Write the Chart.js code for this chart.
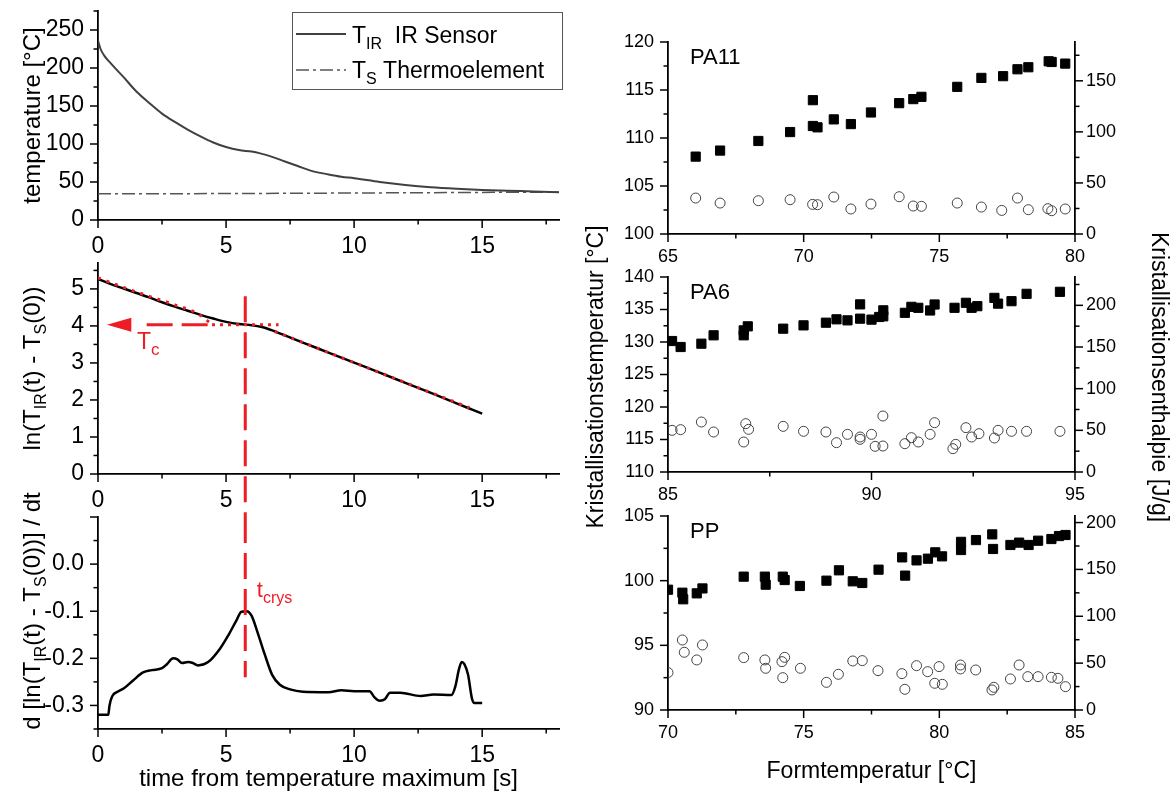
<!DOCTYPE html>
<html>
<head>
<meta charset="utf-8">
<script src="https://cdn.jsdelivr.net/npm/chart.js@4.4.1/dist/chart.umd.min.js"></script>
<style>
  html, body { margin: 0; background: #fff; }
  #page { position: relative; width: 1173px; height: 792px; }
  #page canvas { position: absolute; left: 0; top: 0; }
</style>
</head>
<body>
<div id="page">
  <canvas id="l1" width="1173" height="792"></canvas>
  <canvas id="l2" width="1173" height="792"></canvas>
  <canvas id="l3" width="1173" height="792"></canvas>
  <canvas id="r1" width="1173" height="792"></canvas>
  <canvas id="r2" width="1173" height="792"></canvas>
  <canvas id="r3" width="1173" height="792"></canvas>
</div>
<script>
// ---- left column: cooling curve ----
const irTime = [0, 0.1, 0.25, 0.5, 1, 1.5, 2, 2.5, 3, 3.5, 4, 4.5, 5, 5.5, 6, 6.3, 6.8, 7.3, 7.8, 8.3, 9, 9.5, 10, 11, 12, 13, 14, 15, 16, 17, 18];
const irTemp = [236, 225, 216, 206, 188, 169, 154, 140, 129, 119, 110, 102, 96, 92, 90, 88, 83, 77, 71, 65, 60, 57, 55, 50, 46, 43, 41, 39.5, 38.5, 37.5, 36.5];
const thermoTime = [0, 5, 10, 15, 18];
const thermoTemp = [34.5, 34.8, 35.5, 36.3, 36.6];

// ln(T_IR - T_S(0))
const lnTime = [0, 0.5, 1, 1.5, 2, 2.5, 3, 3.5, 4, 4.5, 5, 5.5, 6, 6.4, 6.8, 7.2, 8, 9, 10, 11, 12, 13, 14, 14.5, 15];
const lnValue = [5.27, 5.13, 5.01, 4.89, 4.77, 4.64, 4.52, 4.41, 4.3, 4.2, 4.11, 4.05, 4.02, 3.97, 3.88, 3.77, 3.55, 3.28, 3.01, 2.74, 2.46, 2.19, 1.91, 1.77, 1.63];
const fit1Time = [0, 1, 2, 3, 3.9, 4.25, 4.5];
const fit1Value = [5.3, 5.04, 4.8, 4.57, 4.33, 4.15, 4.03];
const fit2Time = [6.9, 14.5];
const fit2Value = [3.85, 1.79];
const tcValue = 4.03;
const tcLineTime = [1.9, 4.45, 7.05];
const tcArrowTip = 0.35, tcArrowBase = 1.3;
const crysTime = 5.75;
const crysSpanLn = [4.8, -1.17];
const crysSpanD = [0.1, -0.24];

// derivative
const dTime = [0, 0.4, 0.45, 0.55, 0.8, 1.0, 1.37, 1.76, 2.1, 2.5, 2.7, 2.93, 3.1, 3.28, 3.52, 3.7, 3.9, 4.3, 4.77, 5.1, 5.4, 5.6, 5.8, 6.0, 6.2, 6.5, 6.8, 7.1, 7.5, 8, 9, 9.5, 10, 10.6, 10.8, 11.0, 11.2, 11.4, 11.8, 12.6, 13.1, 13.8, 13.95, 14.1, 14.2, 14.3, 14.45, 14.6, 14.7, 15];
const dValue = [-0.32, -0.32, -0.3, -0.281, -0.27, -0.264, -0.247, -0.23, -0.225, -0.221, -0.212, -0.2, -0.202, -0.21, -0.208, -0.21, -0.215, -0.208, -0.179, -0.15, -0.12, -0.101, -0.1, -0.11, -0.14, -0.19, -0.235, -0.256, -0.266, -0.271, -0.272, -0.268, -0.27, -0.27, -0.283, -0.29, -0.287, -0.273, -0.273, -0.28, -0.277, -0.278, -0.26, -0.222, -0.208, -0.212, -0.235, -0.285, -0.295, -0.295];

// ---- right column: Formtemperatur series ----
const pa11TcX = [66.02, 66.92, 68.33, 69.5, 70.34, 70.34, 70.51, 71.11, 71.74, 72.48, 73.52, 74.04, 74.34, 75.66, 76.55, 77.35, 77.88, 78.28, 79.03, 79.14, 79.64];
const pa11TcY = [108.06, 108.69, 109.69, 110.62, 113.94, 111.25, 111.11, 111.94, 111.45, 112.66, 113.63, 114.05, 114.29, 115.33, 116.26, 116.44, 117.16, 117.37, 117.99, 117.92, 117.75];
const pa11HX = [66.02, 66.92, 68.33, 69.5, 70.33, 70.51, 71.11, 71.74, 72.48, 73.52, 74.04, 74.34, 75.66, 76.55, 77.3, 77.88, 78.28, 79.0, 79.14, 79.64];
const pa11HY = [35.2, 30.3, 32.6, 33.6, 29.0, 28.7, 36.2, 24.5, 29.3, 36.5, 27.4, 27.1, 30.3, 26.4, 23.1, 35.2, 23.8, 24.8, 22.8, 24.5];

const pa6TcX = [85.1, 85.31, 85.82, 86.12, 86.86, 86.86, 86.96, 87.83, 88.33, 88.88, 89.14, 89.41, 89.72, 89.72, 90.0, 90.19, 90.29, 90.29, 90.82, 90.98, 91.15, 91.44, 91.55, 92.04, 92.32, 92.46, 92.6, 93.02, 93.11, 93.44, 93.81, 94.63];
const pa6TcY = [130.15, 129.23, 129.74, 131.03, 131.79, 131.03, 132.41, 132.05, 132.56, 132.97, 133.49, 133.33, 135.79, 133.59, 133.44, 133.85, 134.87, 133.95, 134.49, 135.41, 135.26, 134.85, 135.77, 135.26, 136.03, 135.26, 135.51, 136.79, 135.9, 136.28, 137.41, 137.72];
const pa6HX = [85.1, 85.31, 85.82, 86.12, 86.86, 86.91, 86.98, 87.83, 88.33, 88.88, 89.14, 89.41, 89.72, 89.72, 90.0, 90.09, 90.28, 90.28, 90.82, 90.98, 91.15, 91.44, 91.55, 92.0, 92.07, 92.32, 92.46, 92.64, 93.02, 93.11, 93.44, 93.81, 94.63];
const pa6HY = [50, 50.8, 60, 48, 36, 58, 51.2, 54.8, 48.8, 48, 35.2, 45.2, 42, 39.2, 45.2, 30.8, 31.2, 67.2, 34, 41.2, 36, 45.2, 59.2, 28, 33.2, 53.2, 42, 46, 40.8, 50, 48.8, 48.8, 48.8];

const ppTcX = [70.0, 70.53, 70.56, 71.06, 71.27, 72.79, 73.57, 73.6, 74.23, 74.3, 74.86, 75.84, 76.3, 76.81, 77.16, 77.76, 78.63, 78.74, 79.16, 79.58, 79.85, 80.1, 80.8, 80.8, 81.35, 81.95, 81.98, 82.62, 82.94, 83.29, 83.64, 84.13, 84.41, 84.65];
const ppTcY = [99.3, 99.07, 98.56, 99.02, 99.4, 100.31, 100.31, 99.69, 100.31, 100.05, 99.59, 100.0, 100.8, 99.95, 99.82, 100.85, 101.8, 100.39, 101.57, 101.7, 102.19, 101.88, 103.0, 102.37, 103.14, 103.58, 102.45, 102.76, 102.94, 102.76, 103.09, 103.22, 103.45, 103.53];
const ppHX = [70.0, 70.53, 70.6, 71.06, 71.27, 72.79, 73.57, 73.6, 74.2, 74.23, 74.3, 74.88, 75.84, 76.28, 76.81, 77.16, 77.74, 78.62, 78.73, 79.16, 79.57, 79.83, 79.99, 80.11, 80.78, 80.78, 81.34, 81.94, 82.01, 82.62, 82.94, 83.26, 83.64, 84.13, 84.37, 84.65];
const ppHY = [39.9, 74.7, 61.6, 53.4, 69.4, 55.9, 53.4, 44.5, 51.6, 34.5, 56.2, 44.5, 29.5, 38.1, 52.3, 52.7, 42.0, 38.8, 22.1, 47.3, 40.9, 28.5, 46.3, 27.4, 48.0, 43.8, 42.7, 21.4, 24.2, 33.1, 48.0, 35.6, 35.6, 34.9, 33.8, 24.9];

// ---- look ----
const FONT = '"Liberation Sans", Arial, sans-serif';
const RED = '#ee1c24';
const W = 1173, H = 792;
const Y_W = 70, X_H = 50;

const pts = (xs, ys) => xs.map((x, i) => ({ x, y: ys[i] }));

// text with _{subscript} parts
function runs(str) {
  const out = [];
  str.split(/(_\{[^}]*\})/).forEach(p => {
    if (!p) return;
    if (p.startsWith('_{')) out.push({ t: p.slice(2, -1), sub: true });
    else out.push({ t: p, sub: false });
  });
  return out;
}

function drawRich(ctx, str, x, y, o) {
  const parts = runs(str);
  const sub = o.sub || Math.round(o.size * 0.68);
  const fontOf = r => (r.sub ? sub : o.size) + 'px ' + FONT;
  ctx.save();
  ctx.translate(x, y);
  if (o.angle) ctx.rotate(o.angle);
  ctx.fillStyle = o.color || '#000';
  ctx.textBaseline = 'alphabetic';
  ctx.textAlign = 'left';
  let w = 0;
  parts.forEach(r => { ctx.font = fontOf(r); w += ctx.measureText(r.t).width; });
  let cx = o.align === 'left' ? 0 : -w / 2;
  const base = o.baseline === 'alphabetic' ? 0 : o.size * 0.36;
  parts.forEach(r => {
    ctx.font = fontOf(r);
    ctx.fillText(r.t, cx, base + (r.sub ? o.size * 0.27 : 0));
    cx += ctx.measureText(r.t).width;
  });
  ctx.restore();
}

function fixSize(prop, val) {
  return (s) => {
    s[prop] = val;
    s.paddingLeft = s.paddingRight = s.paddingTop = s.paddingBottom = 0;
  };
}

function axis(pos, min, max, step, size, pad, fmt) {
  const horiz = pos === 'bottom';
  return {
    type: 'linear', position: pos, min, max,
    afterFit: horiz ? fixSize('height', X_H) : fixSize('width', Y_W),
    grid: { display: false, drawTicks: true, tickLength: 8 },
    border: { display: true, color: '#000', width: 1.8 },
    ticks: {
      stepSize: step, includeBounds: false, autoSkip: false, maxRotation: 0,
      padding: pad, color: '#000', font: { family: FONT, size: size },
      callback: fmt || (v => String(v))
    }
  };
}

// major/minor tick marks, pointing outwards
function tickPlugin(spec) {
  return {
    id: 'ticks',
    afterDraw(chart) {
      const ctx = chart.ctx;
      ctx.save();
      ctx.strokeStyle = '#000';
      ctx.lineWidth = 1.5;
      Object.keys(spec).forEach(id => {
        const s = chart.scales[id];
        const [major, minor] = spec[id];
        const start = Math.ceil(s.min / minor - 1e-6) * minor;
        for (let v = start; v <= s.max + 1e-6; v += minor) {
          const isMajor = Math.abs(v / major - Math.round(v / major)) < 1e-6;
          const len = isMajor ? 8 : 4.5;
          const p = s.getPixelForValue(v);
          ctx.beginPath();
          if (s.position === 'bottom') { ctx.moveTo(p, s.top); ctx.lineTo(p, s.top + len); }
          else if (s.position === 'left') { ctx.moveTo(s.right, p); ctx.lineTo(s.right - len, p); }
          else { ctx.moveTo(s.left, p); ctx.lineTo(s.left + len, p); }
          ctx.stroke();
        }
      });
      ctx.restore();
    }
  };
}

function makeChart(id, area, scales, tickSpec, datasets, draw) {
  const hasRight = !!scales.y1;
  return new Chart(document.getElementById(id), {
    type: 'scatter',
    data: { datasets },
    options: {
      responsive: false,
      animation: false,
      devicePixelRatio: 1,
      layout: {
        padding: {
          left: area.l - Y_W,
          right: W - area.r - (hasRight ? Y_W : 0),
          top: area.t,
          bottom: H - area.b - X_H
        }
      },
      plugins: { legend: { display: false }, tooltip: { enabled: false } },
      scales
    },
    plugins: [tickPlugin(tickSpec), { id: 'extra', afterDraw: c => draw && draw(c) }]
  });
}

const curve = (data, color, width, extra) => Object.assign({
  data, showLine: true, borderColor: color, borderWidth: width,
  pointRadius: 0, cubicInterpolationMode: 'monotone', fill: false
}, extra || {});

// ---------- L1: temperature ----------
makeChart('l1', { l: 98, r: 559, t: 11, b: 220 }, {
  x: axis('bottom', 0, 18, 5, 23, 5),
  y: axis('left', 0, 275, 50, 23, 6)
}, { x: [5, 2.5], y: [50, 25] }, [
  curve(pts(irTime, irTemp), '#404040', 2),
  curve(pts(thermoTime, thermoTemp), '#555', 1.5, { borderDash: [13, 4, 3, 4] })
], c => {
  const ctx = c.ctx;
  drawRich(ctx, 'temperature [°C]', 31, (c.chartArea.top + c.chartArea.bottom) / 2, { size: 24, angle: -Math.PI / 2 });
  // legend
  ctx.save();
  ctx.strokeStyle = '#555'; ctx.lineWidth = 1;
  ctx.strokeRect(292.5, 12.5, 270, 77);
  ctx.strokeStyle = '#404040'; ctx.lineWidth = 2;
  ctx.beginPath(); ctx.moveTo(296, 34); ctx.lineTo(346, 34); ctx.stroke();
  ctx.strokeStyle = '#555'; ctx.lineWidth = 1.5; ctx.setLineDash([13, 4, 3, 4]);
  ctx.beginPath(); ctx.moveTo(296, 70); ctx.lineTo(346, 70); ctx.stroke();
  ctx.restore();
  drawRich(ctx, 'T_{IR}  IR Sensor', 352, 43, { size: 23, sub: 16, align: 'left', baseline: 'alphabetic' });
  drawRich(ctx, 'T_{S} Thermoelement', 352, 78, { size: 23, sub: 16, align: 'left', baseline: 'alphabetic' });
});

// ---------- L2: ln ----------
makeChart('l2', { l: 98, r: 559, t: 263, b: 474 }, {
  x: axis('bottom', 0, 18, 5, 23, 5),
  y: axis('left', 0, 5.7, 1, 23, 6)
}, { x: [5, 2.5], y: [1, 0.5] }, [
  curve(pts([crysTime, crysTime], crysSpanLn), RED, 3, { borderDash: [26, 10], clip: false, cubicInterpolationMode: 'default', tension: 0 }),
  {
    data: tcLineTime.map(x => ({ x, y: tcValue })), showLine: true, borderColor: RED, borderWidth: 3,
    pointRadius: 0, tension: 0,
    segment: { borderDash: s => s.p0DataIndex === 0 ? [26, 9] : [3, 5] }
  },
  curve(pts(fit1Time, fit1Value), RED, 3, { borderDash: [3, 6] }),
  curve(pts(fit2Time, fit2Value), RED, 3, { borderDash: [3, 6], tension: 0, cubicInterpolationMode: 'default' }),
  curve(pts(lnTime, lnValue), '#000', 2.5)
], c => {
  const ctx = c.ctx, sx = c.scales.x, sy = c.scales.y;
  drawRich(ctx, 'ln(T_{IR}(t) - T_{S}(0))', 31, (c.chartArea.top + c.chartArea.bottom) / 2, { size: 24, angle: -Math.PI / 2 });
  // arrow head of T_c
  const yy = sy.getPixelForValue(tcValue);
  ctx.save();
  ctx.fillStyle = RED;
  ctx.beginPath();
  ctx.moveTo(sx.getPixelForValue(tcArrowTip), yy);
  ctx.lineTo(sx.getPixelForValue(tcArrowBase), yy - 7);
  ctx.lineTo(sx.getPixelForValue(tcArrowBase), yy + 7);
  ctx.closePath(); ctx.fill();
  ctx.restore();
  drawRich(ctx, 'T_{c}', sx.getPixelForValue(1.52), sy.getPixelForValue(3.37), { size: 23, sub: 17, align: 'left', baseline: 'alphabetic', color: RED });
});

// ---------- L3: derivative ----------
makeChart('l3', { l: 98, r: 559, t: 517, b: 729 }, {
  x: axis('bottom', 0, 18, 5, 23, 5),
  y: axis('left', -0.35, 0.1, 0.1, 23, 6, v => (v > 0.05 ? '' : v.toFixed(1)))
}, { x: [5, 2.5], y: [0.1, 0.05] }, [
  curve(pts([crysTime, crysTime], crysSpanD), RED, 3, { borderDash: [26, 10], clip: false, cubicInterpolationMode: 'default', tension: 0 }),
  curve(pts(dTime, dValue), '#000', 2.5)
], c => {
  const ctx = c.ctx, sx = c.scales.x, sy = c.scales.y;
  drawRich(ctx, 'd [ln(T_{IR}(t) - T_{S}(0))] / dt', 31, 611, { size: 24, angle: -Math.PI / 2 });
  drawRich(ctx, 'time from temperature maximum [s]', (c.chartArea.left + c.chartArea.right) / 2, 777, { size: 24 });
  drawRich(ctx, 't_{crys}', sx.getPixelForValue(6.2), sy.getPixelForValue(-0.07), { size: 22, sub: 16, align: 'left', baseline: 'alphabetic', color: RED });
});

// ---------- right column ----------
const squares = data => ({ data, pointStyle: 'rect', pointRadius: 6.5, backgroundColor: '#000', borderColor: '#000', borderWidth: 1, yAxisID: 'y', clip: 0 });
const circles = data => ({ data, pointStyle: 'circle', pointRadius: 5, backgroundColor: 'rgba(0,0,0,0)', borderColor: '#444', borderWidth: 1, yAxisID: 'y1', clip: 0 });

function rightPanel(id, area, xr, yr, hr, label, sqData, ciData, draw) {
  makeChart(id, area, {
    x: axis('bottom', xr[0], xr[1], 5, 18, 4),
    y: axis('left', yr[0], yr[1], 5, 18, 6),
    y1: axis('right', 0, hr, 50, 18, 3)
  }, { x: [5, 2.5], y: [5, 2.5], y1: [50, 25] }, [squares(sqData), circles(ciData)], c => {
    drawRich(c.ctx, label, c.chartArea.left + 22, c.chartArea.top + 14, { size: 22, align: 'left' });
    if (draw) draw(c);
  });
}

rightPanel('r1', { l: 668, r: 1075, t: 42, b: 234 }, [65, 80], [100, 120], 188,
  'PA11', pts(pa11TcX, pa11TcY), pts(pa11HX, pa11HY));

rightPanel('r2', { l: 668, r: 1075, t: 277, b: 472 }, [85, 95], [110, 140], 234,
  'PA6', pts(pa6TcX, pa6TcY), pts(pa6HX, pa6HY), c => {
    drawRich(c.ctx, 'Kristallisationstemperatur [°C]', 595, 377, { size: 23, angle: -Math.PI / 2 });
    drawRich(c.ctx, 'Kristallisationsenthalpie [J/g]', 1160, 377, { size: 23, angle: Math.PI / 2 });
  });

rightPanel('r3', { l: 668, r: 1075, t: 516, b: 710 }, [70, 85], [90, 105], 207,
  'PP', pts(ppTcX, ppTcY), pts(ppHX, ppHY), c => {
    drawRich(c.ctx, 'Formtemperatur [°C]', (c.chartArea.left + c.chartArea.right) / 2, 770, { size: 23 });
  });
</script>
</body>
</html>
